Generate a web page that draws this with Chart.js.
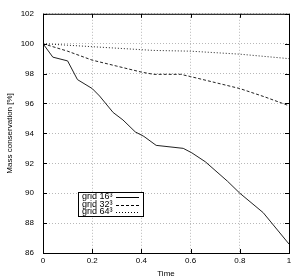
<!DOCTYPE html>
<html>
<head>
<meta charset="utf-8">
<script src="https://cdn.jsdelivr.net/npm/chart.js@4"></script>
<style>
  html, body { margin: 0; padding: 0; background: #fff; }
  #wrap { width: 305px; height: 279px; }
</style>
</head>
<body>
<div id="wrap"><canvas id="massChart" width="305" height="279"></canvas></div>
<script>
// data
var seriesNames = ['grid 16\u00b3', 'grid 32\u00b3', 'grid 64\u00b3'];

var time16 = [0, 0.04, 0.1, 0.14, 0.2, 0.23, 0.285, 0.325, 0.375, 0.41, 0.46, 0.57, 0.605, 0.66, 0.75, 0.8, 0.895, 1.0];
var mass16 = [100, 99.1, 98.85, 97.6, 97.0, 96.5, 95.4, 94.9, 94.1, 93.8, 93.2, 93.0, 92.7, 92.1, 90.8, 90.0, 88.7, 86.6];

var time32 = [0, 0.1, 0.2, 0.3, 0.4, 0.45, 0.56, 0.6, 0.7, 0.8, 0.9, 1.0];
var mass32 = [100, 99.5, 98.9, 98.5, 98.1, 97.95, 97.95, 97.8, 97.4, 97.0, 96.45, 95.85];

var time64 = [0, 0.2, 0.45, 0.6, 0.8, 1.0];
var mass64 = [100, 99.8, 99.55, 99.5, 99.3, 99.0];

var xTicks = [0, 0.2, 0.4, 0.6, 0.8, 1];
var yTicks = [86, 88, 90, 92, 94, 96, 98, 100, 102];

function toPoints(xs, ys) {
  return xs.map(function (x, i) { return { x: x, y: ys[i] }; });
}

var lineDashes = [[], [3, 2], [1, 2]];

var FONT = 'Liberation Sans, Arial, sans-serif';

// gnuplot-like frame and inside legend
var framePlugin = {
  id: 'frame',
  afterDraw: function (chart) {
    var ctx = chart.ctx;
    var a = chart.chartArea;
    ctx.save();
    ctx.strokeStyle = '#000';
    ctx.lineWidth = 1;
    ctx.setLineDash([]);
    ctx.strokeRect(a.left + 0.5, a.top + 0.5, a.right - a.left, a.bottom - a.top);

    // small inside ticks, mirrored
    var xs = chart.scales.x, ys = chart.scales.y;
    ctx.beginPath();
    xTicks.forEach(function (t) {
      var px = Math.round(xs.getPixelForValue(t)) + 0.5;
      ctx.moveTo(px, a.bottom); ctx.lineTo(px, a.bottom - 4);
      ctx.moveTo(px, a.top); ctx.lineTo(px, a.top + 4);
    });
    yTicks.forEach(function (t) {
      var py = Math.round(ys.getPixelForValue(t)) + 0.5;
      ctx.moveTo(a.left, py); ctx.lineTo(a.left + 4, py);
      ctx.moveTo(a.right, py); ctx.lineTo(a.right - 4, py);
    });
    ctx.stroke();

    // legend box
    var bx = 78, by = 192, bw = 65, bh = 24;
    ctx.fillStyle = '#fff';
    ctx.fillRect(bx, by, bw, bh);
    ctx.strokeRect(bx + 0.5, by + 0.5, bw, bh);
    ctx.font = '9px ' + FONT;
    ctx.fillStyle = '#000';
    ctx.textBaseline = 'middle';
    ctx.textAlign = 'left';
    seriesNames.forEach(function (name, i) {
      var yy = by + 5 + i * 7.5;
      ctx.fillText(name, bx + 4, yy);
      ctx.setLineDash(lineDashes[i]);
      ctx.beginPath();
      ctx.moveTo(bx + 38, Math.round(yy) + 0.5);
      ctx.lineTo(bx + 61, Math.round(yy) + 0.5);
      ctx.stroke();
    });
    ctx.restore();
  }
};

var ctxMass = document.getElementById('massChart').getContext('2d');

var myChart = new Chart(ctxMass, {
  type: 'scatter',
  data: {
    datasets: [
      { label: seriesNames[0], data: toPoints(time16, mass16) },
      { label: seriesNames[1], data: toPoints(time32, mass32) },
      { label: seriesNames[2], data: toPoints(time64, mass64) }
    ].map(function (d, i) {
      d.showLine = true;
      d.borderColor = '#222';
      d.borderWidth = 1;
      d.borderDash = lineDashes[i];
      d.pointRadius = 0;
      d.tension = 0;
      return d;
    })
  },
  options: {
    responsive: false,
    animation: false,
    layout: { padding: { top: 9, right: 16, left: 0, bottom: 0 } },
    plugins: {
      legend: { display: false },
      tooltip: { enabled: false }
    },
    scales: {
      x: {
        type: 'linear',
        min: 0, max: 1,
        afterBuildTicks: function (s) { s.ticks = xTicks.map(function (v) { return { value: v }; }); },
        afterFit: function (s) { s.height = 26; },
        ticks: {
          color: '#000',
          font: { family: FONT, size: 8 },
          padding: 3,
          callback: function (v) { return String(+v.toFixed(1)); }
        },
        grid: { color: '#999', tickLength: 0, lineWidth: 0.7 },
        border: { display: false, dash: [1, 2] },
        title: { display: true, text: 'Time', color: '#000', font: { family: FONT, size: 8 }, padding: 0 }
      },
      y: {
        min: 86, max: 102,
        afterBuildTicks: function (s) { s.ticks = yTicks.map(function (v) { return { value: v }; }); },
        afterFit: function (s) { s.width = 43; },
        ticks: {
          color: '#000',
          font: { family: FONT, size: 8 },
          padding: 9
        },
        grid: { color: '#999', tickLength: 0, lineWidth: 0.7 },
        border: { display: false, dash: [1, 2] },
        title: { display: true, text: 'Mass conservation [%]', color: '#000', font: { family: FONT, size: 8 }, padding: { top: 5, bottom: 0 } }
      }
    }
  },
  plugins: [framePlugin]
});
</script>
</body>
</html>
